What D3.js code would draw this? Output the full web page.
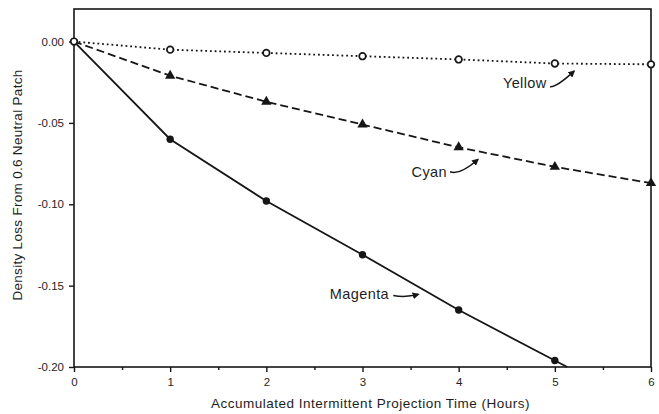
<!DOCTYPE html>
<html>
<head>
<meta charset="utf-8">
<script src="https://cdn.jsdelivr.net/npm/d3@7"></script>
<style>
  html, body { margin: 0; padding: 0; background: #fff; }
  svg { display: block; font-family: "Liberation Sans", Arial, Helvetica, sans-serif; }
</style>
</head>
<body>
<svg id="chart" width="659" height="414"></svg>
<script>
// Projection time in hours and density loss per dye layer
const hours = [0, 1, 2, 3, 4, 5, 6];
const yellowLoss = [0, -0.005, -0.007, -0.009, -0.011, -0.0135, -0.014];
const cyanLoss = [0, -0.021, -0.037, -0.051, -0.065, -0.077, -0.087];
const magentaHours = [0, 1, 2, 3, 4, 5];
const magentaLoss = [0, -0.060, -0.098, -0.131, -0.165, -0.196];

const xTicks = [0, 1, 2, 3, 4, 5, 6];
const xTickLabels = ["0", "1", "2", "3", "4", "5", "6"];
const xMinorTicks = [0.5, 1.5, 2.5, 3.5, 4.5, 5.5];
const yTicks = [0, -0.05, -0.10, -0.15, -0.20];
const yTickLabels = ["0.00", "-0.05", "-0.10", "-0.15", "-0.20"];

// Curve labels: text anchor and arrow (start -> tip), in data units
const labels = [
  { name: "Yellow",  tx: 4.46, ty: -0.0253, ax0: 4.95, ay0: -0.0278, ax1: 5.20, ay1: -0.0182, bend: 0.35 },
  { name: "Cyan",    tx: 3.51, ty: -0.0800, ax0: 3.91, ay0: -0.0800, ax1: 4.20, ay1: -0.0725, bend: 0.35 },
  { name: "Magenta", tx: 2.66, ty: -0.1548, ax0: 3.32, ay0: -0.1560, ax1: 3.58, ay1: -0.1553, bend: 0.12 }
];

const W = 659, H = 414;
const margin = { top: 9, right: 8, bottom: 47, left: 74 };
const svg = d3.select("#chart");
const ink = "#161616";
const textInk = "#1e1e1e";

const x = d3.scaleLinear().domain([0, 6]).range([margin.left, W - margin.right]);
const y = d3.scaleLinear().domain([-0.20, 0.02]).range([H - margin.bottom, margin.top]);

// Plot frame
svg.append("rect")
  .attr("x", x(0)).attr("y", y(0.02))
  .attr("width", x(6) - x(0)).attr("height", y(-0.20) - y(0.02))
  .attr("fill", "none").attr("stroke", ink).attr("stroke-width", 1.6);

// X axis: labelled hours plus half-hour minor ticks
const xAxis = d3.axisBottom(x).tickValues(xTicks)
  .tickFormat((d, i) => xTickLabels[i]).tickSize(5).tickPadding(6);
const gx = svg.append("g").attr("transform", `translate(0,${y(-0.20)})`).call(xAxis);
gx.select(".domain").remove();
gx.selectAll("line").attr("stroke", ink).attr("stroke-width", 1.4);
gx.selectAll("text").attr("fill", textInk).style("font-size", "11.5px");

const gxm = svg.append("g").attr("transform", `translate(0,${y(-0.20)})`)
  .call(d3.axisBottom(x).tickValues(xMinorTicks).tickFormat("").tickSize(3));
gxm.select(".domain").remove();
gxm.selectAll("line").attr("stroke", ink).attr("stroke-width", 1.4);

// Y axis
const yAxis = d3.axisLeft(y).tickValues(yTicks).tickSize(5).tickPadding(5)
  .tickFormat((d, i) => yTickLabels[i]);
const gy = svg.append("g").attr("transform", `translate(${x(0)},0)`).call(yAxis);
gy.select(".domain").remove();
gy.selectAll("line").attr("stroke", ink).attr("stroke-width", 1.4);
gy.selectAll("text").attr("fill", textInk).style("font-size", "11.5px");

// Axis titles
svg.append("text")
  .attr("x", (x(0) + x(6)) / 2 + 8).attr("y", 408)
  .attr("text-anchor", "middle").attr("fill", textInk)
  .style("font-size", "13.5px").style("letter-spacing", "0.5px")
  .text("Accumulated Intermittent Projection Time (Hours)");

svg.append("text")
  .attr("transform", `translate(22,${(y(0.02) + y(-0.20)) / 2 - 3}) rotate(-90)`)
  .attr("text-anchor", "middle").attr("fill", textInk)
  .style("font-size", "13.5px").style("letter-spacing", "0.3px")
  .text("Density Loss From 0.6 Neutral Patch");

const line = d3.line().x(d => x(d[0])).y(d => y(d[1]));

// Yellow: dotted line, open circles
const yellowPts = hours.map((h, i) => [h, yellowLoss[i]]);
svg.append("path").datum(yellowPts).attr("d", line)
  .attr("fill", "none").attr("stroke", ink).attr("stroke-width", 1.8)
  .attr("stroke-dasharray", "1.8,2.9");

// Cyan: dashed line, filled triangles
const cyanPts = hours.map((h, i) => [h, cyanLoss[i]]);
svg.append("path").datum(cyanPts).attr("d", line)
  .attr("fill", "none").attr("stroke", ink).attr("stroke-width", 1.8)
  .attr("stroke-dasharray", "8,4");

// Magenta: solid line, filled circles; the last segment runs on to the x axis
const magentaPts = magentaHours.map((h, i) => [h, magentaLoss[i]]);
const n = magentaPts.length;
const slope = (magentaPts[n - 1][1] - magentaPts[n - 2][1]) / (magentaPts[n - 1][0] - magentaPts[n - 2][0]);
const yMin = y.domain()[0];
const xHit = magentaPts[n - 1][0] + (yMin - magentaPts[n - 1][1]) / slope;
svg.append("path").datum(magentaPts.concat([[xHit, yMin]])).attr("d", line)
  .attr("fill", "none").attr("stroke", ink).attr("stroke-width", 1.8);

// Markers
svg.append("g").selectAll("circle").data(magentaPts.slice(1)).join("circle")
  .attr("cx", d => x(d[0])).attr("cy", d => y(d[1])).attr("r", 3.7).attr("fill", ink);

const tri = d3.symbol().type(d3.symbolTriangle).size(46);
svg.append("g").selectAll("path").data(cyanPts.slice(1)).join("path")
  .attr("transform", d => `translate(${x(d[0])},${y(d[1])})`)
  .attr("d", tri).attr("fill", ink);

svg.append("g").selectAll("circle").data(yellowPts).join("circle")
  .attr("cx", d => x(d[0])).attr("cy", d => y(d[1])).attr("r", 3.3)
  .attr("fill", "#fff").attr("stroke", ink).attr("stroke-width", 1.7);

// Curve labels with curved pointer arrows
svg.append("defs").append("marker")
  .attr("id", "tip").attr("viewBox", "0 0 10 10").attr("refX", 8).attr("refY", 5)
  .attr("markerWidth", 7).attr("markerHeight", 7).attr("markerUnits", "userSpaceOnUse")
  .attr("orient", "auto")
  .append("path").attr("d", "M0,0 L10,5 L0,10 Z").attr("fill", ink);

labels.forEach(l => {
  svg.append("text")
    .attr("x", x(l.tx)).attr("y", y(l.ty)).attr("dy", "0.36em")
    .attr("fill", textInk).style("font-size", "14.5px").style("letter-spacing", "0.4px")
    .text(l.name);
  const x0 = x(l.ax0), y0 = y(l.ay0), x1 = x(l.ax1), y1 = y(l.ay1);
  const mx = (x0 + x1) / 2, my = (y0 + y1) / 2;
  const dx = x1 - x0, dy = y1 - y0;
  // control point pushed below the chord to give a gentle hook
  const cx = mx + dy * l.bend, cy = my + dx * l.bend;
  svg.append("path")
    .attr("d", `M${x0},${y0} Q${cx},${cy} ${x1},${y1}`)
    .attr("fill", "none").attr("stroke", ink).attr("stroke-width", 1.5)
    .attr("marker-end", "url(#tip)");
});
</script>
</body>
</html>
